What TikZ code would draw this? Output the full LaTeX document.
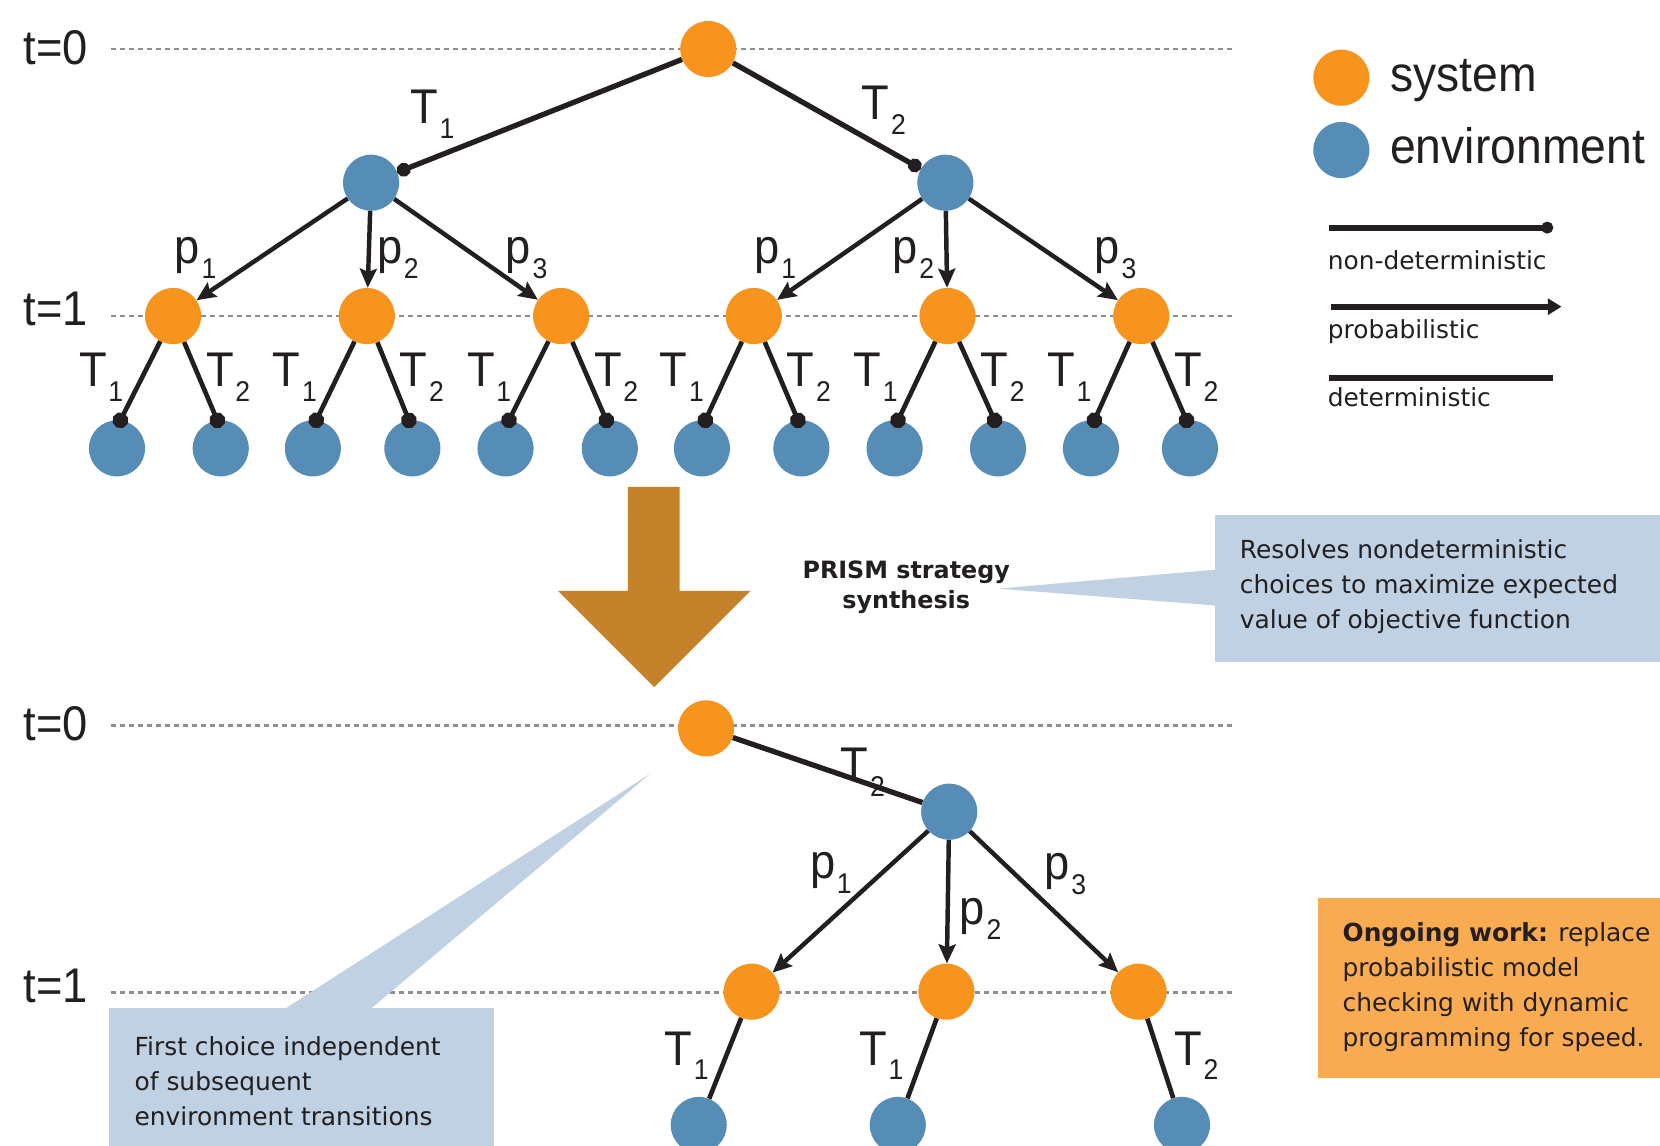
\documentclass[tikz,border=0pt]{standalone}
\usepackage{fontspec}
\setmainfont{DejaVu Sans}
\newfontfamily\lblfont[FakeStretch=0.93]{Liberation Sans}
\usetikzlibrary{arrows.meta}
\definecolor{sysc}{HTML}{F7941E}
\definecolor{envc}{HTML}{568DB6}
\definecolor{calloutc}{HTML}{BFD1E2}
\definecolor{notec}{HTML}{F9AB51}
\definecolor{bigarrowc}{HTML}{C4832B}
\definecolor{ink}{HTML}{231F20}
\definecolor{dashc}{HTML}{8E8E8E}
\newcommand\ls[2]{#1\kern1.5pt\raisebox{-14pt}{\fontsize{27}{27}\selectfont #2}}
\begin{document}
\begin{tikzpicture}[x=1pt,y=-1pt,
  sys/.style={circle,fill=sysc,minimum size=53pt,inner sep=0pt},
  env/.style={circle,fill=envc,minimum size=53pt,inner sep=0pt},
  edge/.style={draw=ink,line width=4.4pt},
  nondet/.style={edge,-{Circle[length=15pt]},shorten >=-7.5pt},
  nondettop/.style={edge,line width=5pt,-{Circle[length=13pt]}},
  prob/.style={edge,line width=4.2pt,-{Stealth[length=18pt,width=16pt,inset=3pt]}},
  det/.style={edge},
  dettop/.style={edge,line width=5pt},
  level/.style={draw=dashc,line width=2.6pt,dash pattern=on 5pt off 3.5pt},
  big/.style={font=\lblfont\fontsize{46}{46}\selectfont,text=ink,inner sep=0pt,anchor=base west},
  small/.style={font=\fontsize{23.5}{33}\selectfont,text=ink,inner sep=0pt},
]
\useasboundingbox (0,0) rectangle (1568,1082);
\clip (0,0) rectangle (1568,1082);
\fill[white] (0,0) rectangle (1568,1082);

% level lines
\foreach \y in {46.3,298.5,685.5,937.3} \draw[level] (105,\y) -- (1166,\y);
\node[big] (t0a) at (22,61) {t=0};
\node[big] (t1a) at (22,307) {t=1};
\node[big] (t0b) at (22,699) {t=0};
\node[big] (t1b) at (22,947) {t=1};

% big arrow
\fill[bigarrowc] (593,460) -- (642,460) -- (642,558) -- (709,558) -- (618,649) -- (527,558) -- (593,558) -- cycle;

% callouts
\fill[calloutc] (1148,486) rectangle (1568,625);
\fill[calloutc] (1149,538) -- (943,556) -- (1149,572) -- cycle;
\fill[calloutc] (103,952) rectangle (467,1090);
\fill[calloutc] (269,953) -- (614,731) -- (350,953) -- cycle;
\fill[notec] (1245,848) rectangle (1568,1018);

\node[small,anchor=north west,align=left] (ctop) at (1171,509.5)
  {Resolves nondeterministic\\choices to maximize expected\\value of objective function};
\node[font=\bfseries\fontsize{22.5}{28.5}\selectfont,text=ink,align=center,anchor=north,inner sep=0pt] (prism) at (856,529.6)
  {PRISM strategy\\synthesis};
\node[small,anchor=north west,align=left] (cbot) at (127,978.6)
  {First choice independent\\of subsequent\\environment transitions};
\node[small,anchor=north west,align=left] (note) at (1268,871.6)
  {\textbf{Ongoing work:} replace\\probabilistic model\\checking with dynamic\\programming for speed.};

% legend
\node[sys] (lsys) at (1267,73.4) {};
\node[env] (lenv) at (1267,141.7) {};
\node[big,font=\lblfont\fontsize{47}{47}\selectfont] (lsyst) at (1313,86.6) {system};
\node[big,font=\lblfont\fontsize{47}{47}\selectfont] (lenvt) at (1313,154) {environment};
\coordinate (n1) at (1255,215); \coordinate (n2) at (1467,215);
\coordinate (p1) at (1257,289.7); \coordinate (p2) at (1475,289.7);
\coordinate (d1) at (1255,357); \coordinate (d2) at (1466.6,357);
\draw[edge,line width=5.7pt,-{Circle[length=11pt]}] (n1) -- (n2);
\draw[edge,line width=5.7pt,-{Triangle[length=13pt,width=15pt]}] (p1) -- (p2);
\draw[edge,line width=5.7pt] (d1) -- (d2);
\node[small,anchor=base west] (nt) at (1254,255) {non-deterministic};
\node[small,anchor=base west] (pt) at (1254,319.6) {probabilistic};
\node[small,anchor=base west] (dt) at (1254,384) {deterministic};

% top tree
\node[sys] (a0) at (669,46.3) {};
\node[env] (a1) at (350.5,172.6) {};
\node[env] (a2) at (893,172.6) {};
\foreach \i/\x in {1/163.5,2/346.5,3/530,4/712,5/895,6/1078}
  \node[sys] (s\i) at (\x,298.5) {};
\foreach \i/\x in {1/110.5,2/208.5,3/295.5,4/389.5,5/477.5,6/576,7/663,8/757,9/845,10/942.7,11/1030.5,12/1124}
  \node[env] (b\i) at (\x,423.5) {};
\draw[nondettop] (a0) -- (a1);
\draw[nondettop] (a0) -- (a2);
\foreach \i in {1,2,3} \draw[prob] (a1) -- (s\i);
\foreach \i in {4,5,6} \draw[prob] (a2) -- (s\i);
\foreach \i in {1,...,6} {
  \pgfmathtruncatemacro\j{2*\i-1}
  \pgfmathtruncatemacro\k{2*\i}
  \draw[nondet] (s\i) -- (b\j.83);
  \draw[nondet] (s\i) -- (b\k.97);
}
\node[big] (la1) at (387.5,116.5) {\ls{T}{1}};
\node[big] (la2) at (814,113) {\ls{T}{2}};
\node[big] (lp1) at (165,248.7) {\ls{p}{1}};
\node[big] (lp2) at (356,248.7) {\ls{p}{2}};
\node[big] (lp3) at (477.5,248.7) {\ls{p}{3}};
\node[big] (lp4) at (712.5,248.7) {\ls{p}{1}};
\node[big] (lp5) at (843,248.7) {\ls{p}{2}};
\node[big] (lp6) at (1034,248.7) {\ls{p}{3}};
\foreach \i/\x in {1/163.5,2/346.5,3/530,4/712,5/895,6/1078} {
  \node[big] (lt\i a) at (\x-89,365) {\ls{T}{1}};
  \node[big] (lt\i b) at (\x+31,365) {\ls{T}{2}};
}

% bottom tree
\node[sys] (r0) at (667,688) {};
\node[env] (r1) at (896.6,766.7) {};
\node[sys] (o1) at (710,936.7) {};
\node[sys] (o2) at (894,936.7) {};
\node[sys] (o3) at (1075.5,936.7) {};
\node[env] (c1) at (660,1062.6) {};
\node[env] (c2) at (848,1062.6) {};
\node[env] (c3) at (1116.5,1062.6) {};
\draw[dettop] (r0) -- (r1);
\foreach \i in {1,2,3} \draw[prob] (r1) -- (o\i);
\foreach \i in {1,2,3} \draw[det] (o\i) -- (c\i);
\node[big] (m1) at (794,738) {\ls{T}{2}};
\node[big] (m2) at (765,829.6) {\ls{p}{1}};
\node[big] (m3) at (906.5,873.7) {\ls{p}{2}};
\node[big] (m4) at (986.5,831) {\ls{p}{3}};
\node[big] (m5) at (627.5,1006) {\ls{T}{1}};
\node[big] (m6) at (811.5,1006) {\ls{T}{1}};
\node[big] (m7) at (1109,1006) {\ls{T}{2}};
\end{tikzpicture}
\end{document}
